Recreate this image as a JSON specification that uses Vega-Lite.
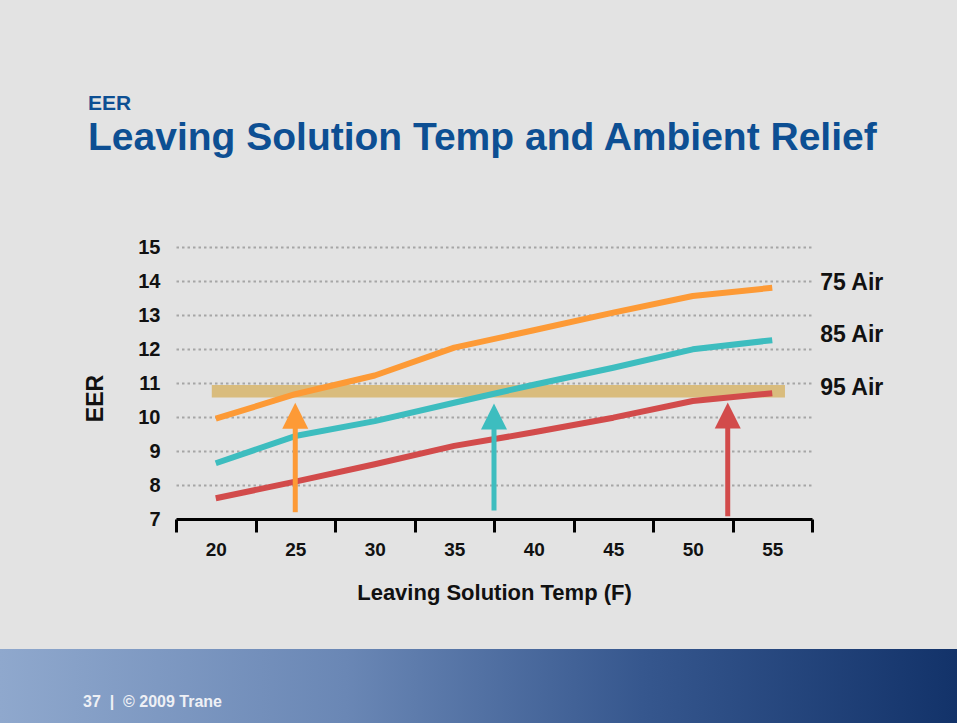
{
  "$schema": "https://vega.github.io/schema/vega-lite/v6.json",
  "background": "#e3e3e3",
  "padding": {"left": 0, "top": 93, "right": 0, "bottom": 0},
  "bounds": "flush",
  "center": true,
  "spacing": 130,
  "config": {
    "font": "Liberation Sans",
    "view": {"stroke": null}
  },
  "datasets": {
    "eer": [
      {"series": "75 Air", "temp": 20, "eer": 9.95},
      {"series": "75 Air", "temp": 25, "eer": 10.67},
      {"series": "75 Air", "temp": 30, "eer": 11.22},
      {"series": "75 Air", "temp": 35, "eer": 12.04},
      {"series": "75 Air", "temp": 40, "eer": 12.55},
      {"series": "75 Air", "temp": 45, "eer": 13.07},
      {"series": "75 Air", "temp": 50, "eer": 13.56},
      {"series": "75 Air", "temp": 55, "eer": 13.8},
      {"series": "85 Air", "temp": 20, "eer": 8.64},
      {"series": "85 Air", "temp": 25, "eer": 9.44},
      {"series": "85 Air", "temp": 30, "eer": 9.88},
      {"series": "85 Air", "temp": 35, "eer": 10.42},
      {"series": "85 Air", "temp": 40, "eer": 10.95},
      {"series": "85 Air", "temp": 45, "eer": 11.45},
      {"series": "85 Air", "temp": 50, "eer": 11.99},
      {"series": "85 Air", "temp": 55, "eer": 12.26},
      {"series": "95 Air", "temp": 20, "eer": 7.61},
      {"series": "95 Air", "temp": 25, "eer": 8.1},
      {"series": "95 Air", "temp": 30, "eer": 8.61},
      {"series": "95 Air", "temp": 35, "eer": 9.15},
      {"series": "95 Air", "temp": 40, "eer": 9.55},
      {"series": "95 Air", "temp": 45, "eer": 9.98},
      {"series": "95 Air", "temp": 50, "eer": 10.47},
      {"series": "95 Air", "temp": 55, "eer": 10.7}
    ],
    "arrows": [
      {"series": "75 Air", "temp": 25, "base": 7.2, "tip": 10.42},
      {"series": "85 Air", "temp": 37.5, "base": 7.25, "tip": 10.4},
      {"series": "95 Air", "temp": 52.2, "base": 7.08, "tip": 10.43}
    ],
    "band": [
      {"from": 19.75, "to": 55.8, "low": 10.57, "high": 10.94}
    ]
  },
  "vconcat": [
    {
      "width": 636,
      "height": 272,
      "title": {
        "text": "EER",
        "subtitle": "Leaving Solution Temp and Ambient Relief",
        "anchor": "start",
        "frame": "group",
        "dx": -88,
        "offset": 79,
        "font": "Liberation Sans",
        "fontSize": 21,
        "fontWeight": "bold",
        "color": "#0d4f93",
        "subtitleFont": "Liberation Sans",
        "subtitleFontSize": 39,
        "subtitleFontWeight": "bold",
        "subtitleColor": "#0d4f93",
        "subtitlePadding": 5
      },
      "layer": [
        {
          "data": {"name": "band"},
          "mark": {"type": "rect", "color": "#d8b977", "opacity": 0.95},
          "encoding": {
            "x": {
              "field": "from",
              "type": "quantitative",
              "title": "Leaving Solution Temp (F)",
              "scale": {"domain": [17.5, 57.5], "nice": false, "zero": false},
              "axis": {
                "values": [17.5, 22.5, 27.5, 32.5, 37.5, 42.5, 47.5, 52.5, 57.5],
                "tickCount": 9,
                "labelExpr": "datum.value < 57 ? format(datum.value + 2.5, 'd') : ''",
                "labelOffset": 39.75,
                "labelFlush": false,
                "labelOverlap": false,
                "labelFontSize": 19,
                "labelFontWeight": "bold",
                "labelColor": "#111111",
                "labelPadding": 8,
                "tickSize": 13,
                "tickWidth": 3,
                "tickColor": "#000000",
                "domainColor": "#000000",
                "domainWidth": 3,
                "grid": false,
                "titleFontSize": 22,
                "titleFontWeight": "bold",
                "titleColor": "#111111",
                "titlePadding": 23
              }
            },
            "x2": {"field": "to"},
            "y": {
              "field": "low",
              "type": "quantitative",
              "title": "EER",
              "scale": {"domain": [7, 15], "nice": false, "zero": false},
              "axis": {
                "values": [7, 8, 9, 10, 11, 12, 13, 14, 15],
                "tickCount": 9,
                "grid": true,
                "gridColor": "#a6a6a6",
                "gridWidth": 2,
                "gridDash": [2.5, 3],
                "domain": false,
                "ticks": false,
                "labelOverlap": false,
                "labelPadding": 16,
                "labelFontSize": 20,
                "labelFontWeight": "bold",
                "labelColor": "#111111",
                "titleFontSize": 23,
                "titleFontWeight": "bold",
                "titleColor": "#111111",
                "titlePadding": 30,
                "titleY": 151
              }
            },
            "y2": {"field": "high"}
          }
        },
        {
          "data": {"name": "eer"},
          "mark": {"type": "line", "strokeWidth": 6, "strokeCap": "butt", "strokeJoin": "round"},
          "encoding": {
            "x": {"field": "temp", "type": "quantitative", "title": "Leaving Solution Temp (F)"},
            "y": {"field": "eer", "type": "quantitative", "title": "EER"},
            "color": {
              "field": "series",
              "type": "nominal",
              "scale": {"domain": ["75 Air", "85 Air", "95 Air"], "range": ["#fd9a36", "#3dbdbf", "#d24b4b"]},
              "legend": null
            }
          }
        },
        {
          "data": {"name": "arrows"},
          "mark": {"type": "rule", "strokeWidth": 5, "y2Offset": 14},
          "encoding": {
            "x": {"field": "temp", "type": "quantitative", "title": "Leaving Solution Temp (F)"},
            "y": {"field": "base", "type": "quantitative", "title": "EER"},
            "y2": {"field": "tip"},
            "color": {"field": "series", "type": "nominal", "legend": null}
          }
        },
        {
          "data": {"name": "arrows"},
          "mark": {"type": "point", "shape": "M0,0L1,2L-1,2Z", "size": 676, "filled": true, "opacity": 1},
          "encoding": {
            "x": {"field": "temp", "type": "quantitative", "title": "Leaving Solution Temp (F)"},
            "y": {"field": "tip", "type": "quantitative", "title": "EER"},
            "color": {"field": "series", "type": "nominal", "legend": null}
          }
        },
        {
          "data": {"name": "eer"},
          "transform": [{"filter": "datum.temp == 55"}],
          "mark": {"type": "text", "align": "left", "baseline": "middle", "dx": 48, "dy": -5, "fontSize": 23, "fontWeight": "bold", "color": "#111111"},
          "encoding": {
            "x": {"field": "temp", "type": "quantitative", "title": "Leaving Solution Temp (F)"},
            "y": {"field": "eer", "type": "quantitative", "title": "EER"},
            "text": {"field": "series"}
          }
        }
      ]
    },
    {
      "width": 988,
      "height": 75,
      "data": {"values": []},
      "mark": "point",
      "view": {
        "fill": {
          "gradient": "linear",
          "x1": 0, "y1": 0, "x2": 1, "y2": 0,
          "stops": [
            {"offset": 0, "color": "#8fa8cd"},
            {"offset": 0.35, "color": "#6a87b5"},
            {"offset": 0.65, "color": "#36578e"},
            {"offset": 1, "color": "#0f2f66"}
          ]
        },
        "stroke": null
      },
      "title": {
        "text": "37 \u00a0|\u00a0 © 2009 Trane",
        "orient": "bottom",
        "anchor": "start",
        "frame": "group",
        "dx": 83,
        "offset": -30,
        "font": "Liberation Sans",
        "fontSize": 16,
        "fontWeight": "bold",
        "color": "#eef0f5"
      }
    }
  ]
}
